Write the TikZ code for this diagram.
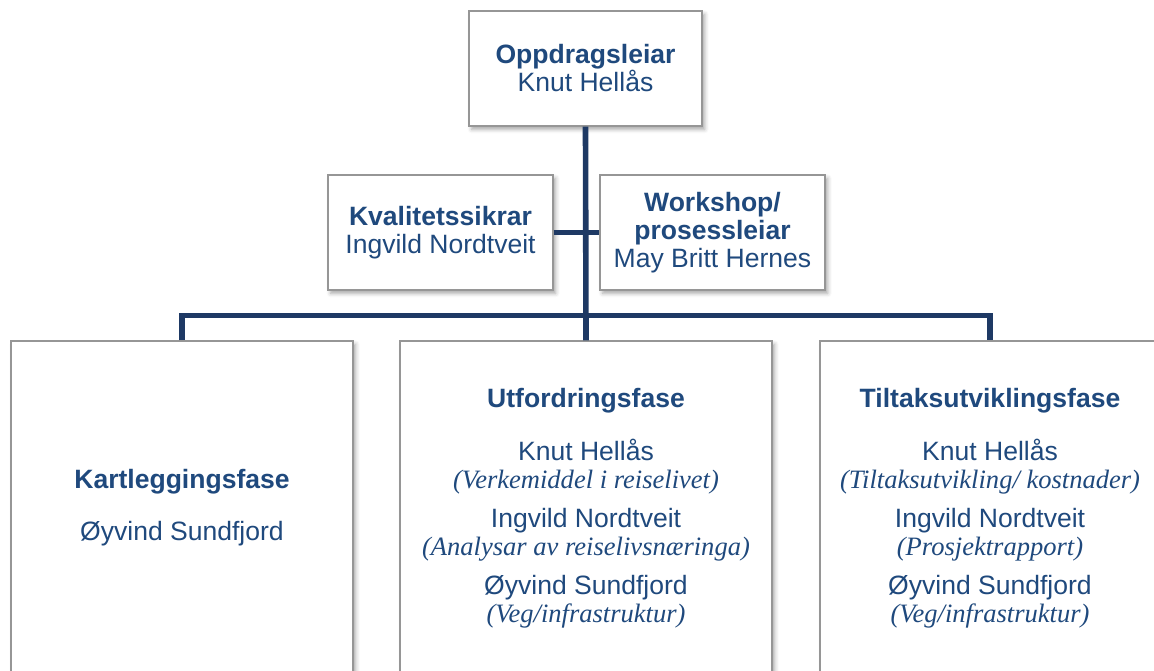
\documentclass[tikz,border=0pt]{standalone}
\usepackage{fontspec}
\setmainfont{Liberation Sans}
\newfontfamily\rolefont{Liberation Serif}
\usepackage{tikz}
\usetikzlibrary{shadows.blur}
\definecolor{textblue}{RGB}{31,73,125}
\definecolor{linenavy}{RGB}{30,57,100}
\definecolor{boxgray}{RGB}{150,150,150}
\newcommand{\pxu}{0.75pt}
\newcommand{\role}[1]{{\rolefont\itshape #1}}
\tikzset{box/.style = {shape=rectangle, draw=boxgray, line width=1.1pt, fill=white,
    blur shadow={shadow xshift=2pt, shadow yshift=-2.5pt, shadow blur radius=3pt, shadow opacity=35},
    text=textblue, align=center, inner sep=0pt,
    font=\fontsize{19.9}{21}\selectfont}}
\tikzset{link/.style = {draw=linenavy, line width=4.2pt}}

\begin{document}
\begin{tikzpicture}[x=\pxu, y=-\pxu]
    \useasboundingbox (0,0) rectangle (1154,671);

    \node[box, minimum width=233*\pxu, minimum height=115*\pxu] (opp) at (585.5,68.5)
        {\textbf{Oppdragsleiar}\\Knut Hellås};
    \node[box, minimum width=225*\pxu, minimum height=115*\pxu] (kval) at (440.5,232.5)
        {\textbf{Kvalitetssikrar}\\Ingvild Nordtveit};
    \node[box, minimum width=225*\pxu, minimum height=115*\pxu] (work) at (712.5,232.5)
        {\textbf{Workshop/}\\\textbf{prosessleiar}\\May Britt Hernes};

    \node[box, minimum width=342*\pxu, minimum height=334*\pxu] (kart) at (182,508)
        {\textbf{Kartleggingsfase}\\[18pt]Øyvind Sundfjord};
    \node[box, minimum width=372*\pxu, minimum height=334*\pxu] (utf) at (586,508)
        {\textbf{Utfordringsfase}\\[19pt]Knut Hellås\\\role{(Verkemiddel i reiselivet)}\\[8pt]
         Ingvild Nordtveit\\\role{(Analysar av reiselivsnæringa)}\\[8pt]
         Øyvind Sundfjord\\\role{(Veg/infrastruktur)}};
    \node[box, minimum width=340*\pxu, minimum height=334*\pxu] (tilt) at (990,508)
        {\textbf{Tiltaksutviklingsfase}\\[19pt]Knut Hellås\\\role{(Tiltaksutvikling/ kostnader)}\\[8pt]
         Ingvild Nordtveit\\\role{(Prosjektrapport)}\\[8pt]
         Øyvind Sundfjord\\\role{(Veg/infrastruktur)}};

    \coordinate (bar) at (586,315.5);

    \draw[link] (opp.south) -- (utf.north);
    \draw[link] (kval.east) -- (work.west);
    \draw[link] (kart.north) |- (bar) -| (tilt.north);
\end{tikzpicture}
\end{document}
